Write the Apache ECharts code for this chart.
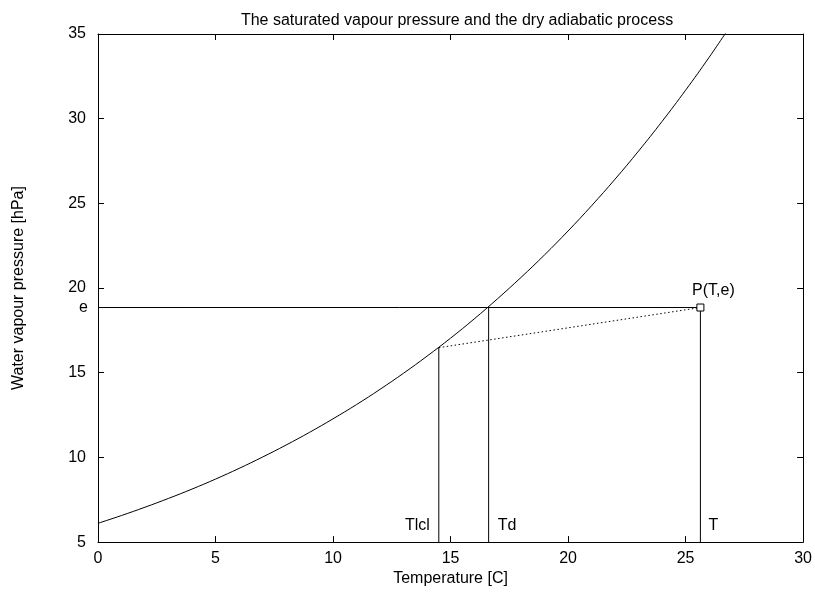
<!DOCTYPE html>
<html>
<head>
<meta charset="utf-8">
<script src="https://cdn.jsdelivr.net/npm/echarts@6/dist/echarts.min.js"></script>
<style>html,body{margin:0;padding:0;background:#fff;overflow:hidden}#c{width:815px;height:592px}</style>
</head>
<body>
<div id="c"></div>
<script>
// Saturation vapour pressure curve
const temps = [0,1,2,3,4,5,6,7,8,9,10,11,12,13,14,15,16,17,18,19,20,21,22,23,24,25,26,27];
const satPressure = [6.11,6.57,7.06,7.58,8.13,8.72,9.35,10.02,10.73,11.48,12.28,13.12,14.02,14.97,15.98,17.04,18.17,19.37,20.63,21.96,23.37,24.86,26.43,28.09,29.84,31.68,33.62,35.67];
// Key points
const T = 25.63, e = 18.85;
const Td = 16.62;
const Tlcl = 14.5, eLcl = 16.48;
const xTicks = [0,5,10,15,20,25,30];
const yTicks = [5,10,15,20,25,30,35];

const FONT = 'Liberation Sans, Arial, sans-serif';
const black = '#000';
const chart = echarts.init(document.getElementById('c'), null, {renderer:'canvas'});

const baseX = {
  type:'value', min:0, max:30, interval:5,
  axisLine:{show:true, onZero:false, lineStyle:{color:black,width:1}},
  axisTick:{show:true, inside:true, length:6, lineStyle:{color:black}},
  splitLine:{show:false}
};
const baseY = {
  type:'value', min:5, max:35, interval:5,
  axisLine:{show:true, onZero:false, lineStyle:{color:black,width:1}},
  axisTick:{show:true, inside:true, length:6, lineStyle:{color:black}},
  splitLine:{show:false}
};

const thin = {color:black, width:1};
const txt = {color:black, fontSize:16, fontFamily:FONT, opacity:1, textBorderWidth:0};
function vline(x, top){
  return {type:'line', symbol:'none', silent:true, lineStyle:thin, data:[[x,5],[x,top]]};
}
function textPoint(x, y, text, pos, off){
  return {value:[x,y], label:Object.assign({show:true, formatter:text, position:pos, offset:off}, txt)};
}

chart.setOption({
  animation:false,
  backgroundColor:'#fff',
  title:{text:'The saturated vapour pressure and the dry adiabatic process', left:452, textAlign:'center', top:8,
    textStyle:{fontSize:16, fontWeight:'normal', color:black, fontFamily:FONT}},
  grid:{left:98, right:8, top:34, bottom:41, containLabel:false},
  xAxis:[
    Object.assign({}, baseX, {position:'bottom', name:'Temperature [C]', nameLocation:'middle', nameGap:20,
      nameTextStyle:txt,
      axisLabel:Object.assign({show:true, margin:8}, txt)}),
    Object.assign({}, baseX, {position:'top', axisLabel:{show:false}})
  ],
  yAxis:[
    Object.assign({}, baseY, {position:'left', name:'Water vapour pressure [hPa]', nameLocation:'middle', nameGap:71,
      nameTextStyle:txt,
      axisLabel:Object.assign({show:true, margin:12}, txt)}),
    Object.assign({}, baseY, {position:'right', axisLabel:{show:false}})
  ],
  series:[
    {type:'line', smooth:0.4, symbol:'none', lineStyle:thin, clip:true,
      data: temps.map((t,i)=>[t, satPressure[i]])},
    {type:'line', symbol:'none', lineStyle:thin, data:[[0,e],[T,e]]},
    vline(Tlcl, eLcl),
    vline(Td, e),
    vline(T, e),
    {type:'line', symbol:'none', lineStyle:{color:black, width:1, type:[1.5,2.5]},
      data:[[Tlcl,eLcl],[T,e]]},
    {type:'scatter', symbol:'rect', symbolSize:7,
      itemStyle:{color:'#fff', borderColor:black, borderWidth:1, opacity:1},
      label:Object.assign({show:true, formatter:'P(T,e)', position:'top', offset:[13,0]}, txt),
      data:[[T,e]], z:10},
    {type:'scatter', symbolSize:0, silent:true, z:11, clip:false,
      itemStyle:{opacity:1, color:black},
      data:[
        textPoint(Tlcl, 5, 'Tlcl', 'left', [-4,-17]),
        textPoint(Td, 5, 'Td', 'right', [4,-17]),
        textPoint(T, 5, 'T', 'right', [3,-17]),
        textPoint(0, e, 'e', 'left', [-5,0])
      ]}
  ]
});
</script>
</body>
</html>
